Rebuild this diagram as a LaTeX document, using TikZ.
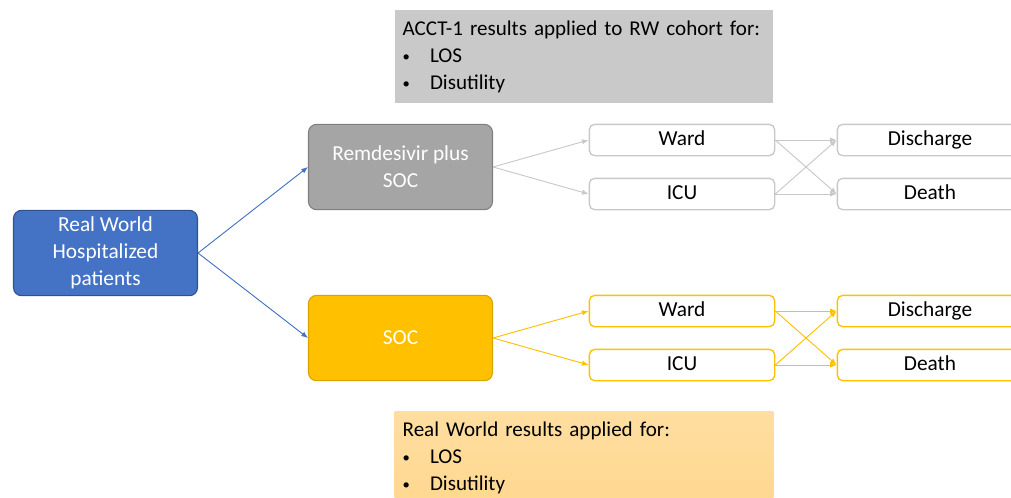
\documentclass[tikz,border=0pt]{standalone}
\usepackage{fontspec}
\setmainfont{Carlito}
\usepackage{tikz}
\usetikzlibrary{arrows.meta}
\usetikzlibrary{positioning}
\definecolor{rwblue}{HTML}{4472C4}
\definecolor{rwblueline}{HTML}{2F528F}
\definecolor{remgray}{HTML}{A5A5A5}
\definecolor{remgrayline}{HTML}{7F7F7F}
\definecolor{socgold}{HTML}{FFC000}
\definecolor{socgoldline}{HTML}{D9A300}
\definecolor{notegray}{HTML}{C9C9C9}
\definecolor{noteorange}{HTML}{FFD890}
\definecolor{thingray}{HTML}{C8C8C8}
\newcommand{\bul}[1]{\makebox[20.5pt][l]{\raisebox{0.5pt}{\fontsize{11}{11}\selectfont\textbullet}}#1}
\tikzset{
bigbox/.style={rounded corners=6pt, line width=0.8pt, minimum width=138pt, minimum height=64pt, text=white, align=center, font=\fontsize{16}{20.25}\selectfont, inner sep=2pt},
statebox/.style={rounded corners=4pt, line width=1pt, fill=white, minimum width=139pt, minimum height=23.5pt, text height=11.5pt, text depth=3pt, font=\fontsize{16}{18}\selectfont, inner sep=1pt},
notebox/.style={minimum width=283.5pt, minimum height=69.5pt, text width=272pt, align=left, font=\fontsize{15.8}{20.25}\selectfont, inner xsep=6pt, inner ysep=3.5pt},
link/.style={line width=0.7pt, -{Latex[length=5pt,width=4pt]}}
}
\begin{document}
\begin{tikzpicture}[x=0.75pt,y=-0.75pt]
\useasboundingbox (0,0) rectangle (1011,497);
\clip (0,0) rectangle (1011,497);

% notes above and below
\node[notebox, fill=notegray] (acct) at (584,56.5) {ACCT-1 results applied to RW cohort for:\\ \bul{LOS}\\ \bul{Disutility}};
\node[notebox, top color=noteorange!85!white, bottom color=noteorange] (rwres) at (584,457.5) {Real World results applied for:\\ \bul{LOS}\\ \bul{Disutility}};

% arms
\node[bigbox, fill=rwblue, draw=rwblueline] (real) at (105.5,253) {Real World\\ Hospitalized\\ patients};
\node[bigbox, fill=remgray, draw=remgrayline] (remd) at (400.5,167) {Remdesivir plus\\ SOC};
\node[bigbox, fill=socgold, draw=socgoldline] (soc) at (400.5,338) {SOC};

\draw[link, rwblue] (real.east) -- (remd.west);
\draw[link, rwblue] (real.east) -- (soc.west);

% states
\foreach \arm/\y/\col in {A/140/thingray, B/311/socgold}
 {
 \node[statebox, draw=\col] (ward\arm) at (682,\y) {Ward};
 \node[statebox, draw=\col] (icu\arm) at (682,\y+54) {ICU};
 \node[statebox, draw=\col] (dis\arm) at (930,\y) {Discharge};
 \node[statebox, draw=\col] (death\arm) at (930,\y+54) {Death};
 \draw[link, \col] (ward\arm.east) -- (dis\arm.west);
 \draw[link, \col] (ward\arm.east) -- (death\arm.west);
 \draw[link, \col] (icu\arm.east) -- (dis\arm.west);
 \draw[link, \col] (icu\arm.east) -- (death\arm.west);
 }

\draw[link, thingray] (remd.east) -- (wardA.west);
\draw[link, thingray] (remd.east) -- (icuA.west);
\draw[link, socgold] (soc.east) -- (wardB.west);
\draw[link, socgold] (soc.east) -- (icuB.west);

\end{tikzpicture}
\end{document}
